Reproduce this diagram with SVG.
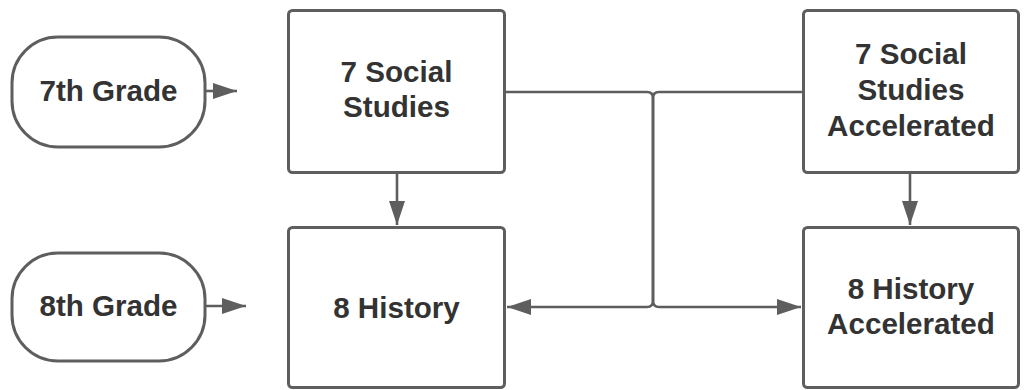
<svg xmlns="http://www.w3.org/2000/svg" width="1026" height="390" viewBox="0 0 1026 390">
<style>
.box{fill:#fff;stroke:#5e5e5e;stroke-width:3}
.t{font-family:"Liberation Sans",Arial,sans-serif;font-weight:bold;font-size:29.6px;fill:#333;text-anchor:middle;dominant-baseline:central}
.c{fill:none;stroke:#5e5e5e;stroke-width:2.6}
</style>
<defs>
<marker id="ah" markerUnits="userSpaceOnUse" markerWidth="26" markerHeight="18" refX="24" refY="8" orient="auto">
<path d="M0,0 L24,8 L0,16 z" fill="#5e5e5e"/>
</marker>
</defs>
<rect width="1026" height="390" fill="#fff"/>
<g id="connectors">
<path class="c" d="M205,91 H237" marker-end="url(#ah)"/>
<path class="c" d="M205,306 H246" marker-end="url(#ah)"/>
<path class="c" d="M397,173 V225" marker-end="url(#ah)"/>
<path class="c" d="M910,173 V225" marker-end="url(#ah)"/>
<path class="c" d="M505,92 H647 Q653,92 653,98 V301 Q653,307 659,307 H801" marker-end="url(#ah)"/>
<path class="c" d="M803,92 H659 Q653,92 653,98 V301 Q653,307 647,307 H507" marker-end="url(#ah)"/>
</g>
<g id="n7grade">
<rect class="box" x="12" y="37" width="193" height="110" rx="46" ry="46"/>
<text class="t" x="108.5" y="90">7th Grade</text>
</g>
<g id="n8grade">
<rect class="box" x="12" y="253" width="193" height="108" rx="46" ry="46"/>
<text class="t" x="108.5" y="305">8th Grade</text>
</g>
<g id="n7ss">
<rect class="box" x="288.5" y="10.5" width="216" height="162" rx="4"/>
<text class="t" x="396.5" y="71">7 Social</text>
<text class="t" x="396.5" y="106">Studies</text>
</g>
<g id="n8h">
<rect class="box" x="288.5" y="227.5" width="216" height="160" rx="4"/>
<text class="t" x="396.5" y="307">8 History</text>
</g>
<g id="n7ssa">
<rect class="box" x="803.5" y="10.5" width="215" height="162" rx="4"/>
<text class="t" x="911" y="53">7 Social</text>
<text class="t" x="911" y="89">Studies</text>
<text class="t" x="911" y="125">Accelerated</text>
</g>
<g id="n8ha">
<rect class="box" x="803.5" y="227.5" width="215" height="160" rx="4"/>
<text class="t" x="911" y="288">8 History</text>
<text class="t" x="911" y="323">Accelerated</text>
</g>
</svg>
